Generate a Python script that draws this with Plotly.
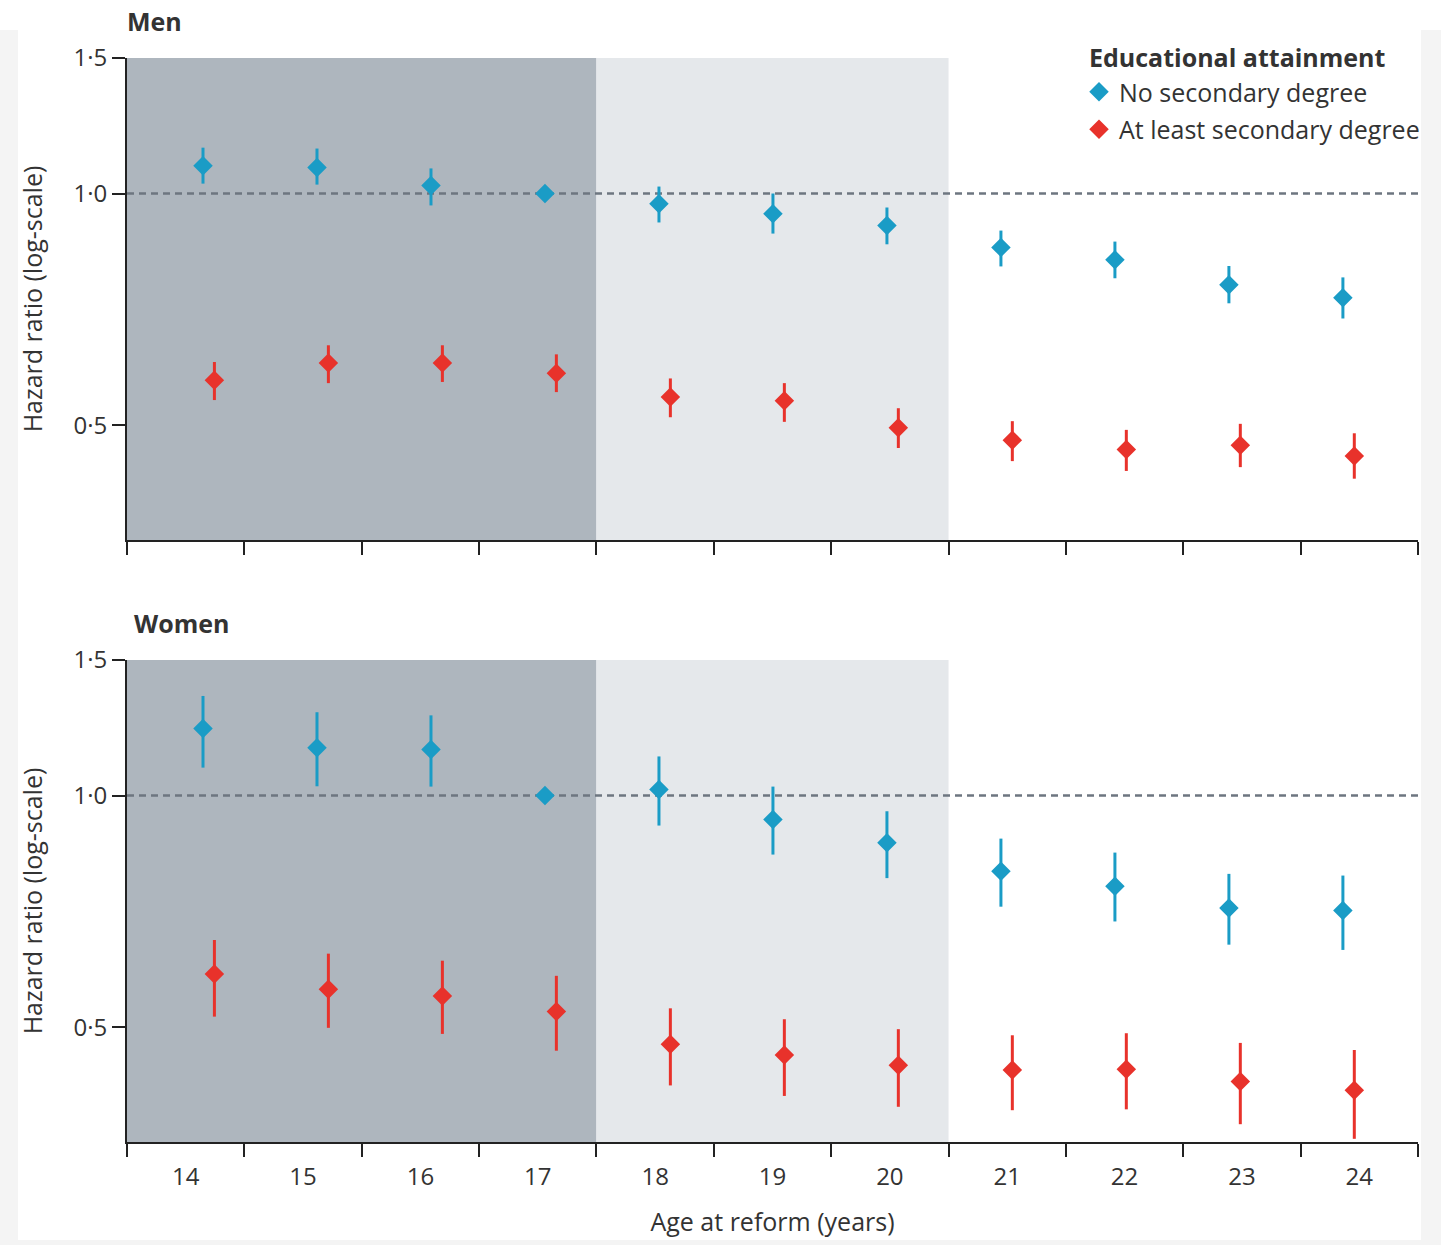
import plotly.graph_objects as go
import math

# ---------------- data ----------------
ages = [14, 15, 16, 17, 18, 19, 20, 21, 22, 23, 24]
tick_labels = [str(a) for a in ages]

# Men – no secondary degree
men_no_hr = [1.087, 1.081, 1.024, 1.000, 0.970, 0.941, 0.909, 0.851, 0.820, 0.761, 0.732]
men_no_hi = [1.147, 1.144, 1.078, 1.000, 1.021, 1.000, 0.959, 0.895, 0.866, 0.805, 0.778]
men_no_lo = [1.030, 1.027, 0.965, 1.000, 0.917, 0.887, 0.859, 0.804, 0.776, 0.720, 0.688]
# Men – at least secondary degree
men_sec_hr = [0.572, 0.602, 0.602, 0.584, 0.544, 0.538, 0.496, 0.478, 0.465, 0.471, 0.456]
men_sec_hi = [0.604, 0.635, 0.635, 0.618, 0.575, 0.567, 0.526, 0.506, 0.493, 0.502, 0.488]
men_sec_lo = [0.539, 0.567, 0.569, 0.552, 0.512, 0.505, 0.467, 0.449, 0.436, 0.441, 0.426]
# Women – no secondary degree
wom_no_hr = [1.222, 1.154, 1.148, 1.000, 1.018, 0.931, 0.868, 0.797, 0.762, 0.714, 0.709]
wom_no_hi = [1.347, 1.283, 1.271, 1.000, 1.124, 1.027, 0.954, 0.879, 0.843, 0.791, 0.787]
wom_no_lo = [1.087, 1.028, 1.027, 1.000, 0.914, 0.838, 0.781, 0.717, 0.686, 0.640, 0.630]
# Women – at least secondary degree
wom_sec_hr = [0.586, 0.560, 0.549, 0.524, 0.475, 0.460, 0.446, 0.440, 0.441, 0.425, 0.414]
wom_sec_hi = [0.649, 0.623, 0.610, 0.583, 0.529, 0.512, 0.497, 0.488, 0.491, 0.477, 0.467]
wom_sec_lo = [0.516, 0.499, 0.490, 0.466, 0.420, 0.407, 0.394, 0.390, 0.391, 0.374, 0.358]

series_names = ["No secondary degree", "At least secondary degree"]
legend_title = "Educational attainment"
panel_names = ["Men", "Women"]

# ---------------- styling ----------------
BLUE = "#1a9cc6"
RED = "#e8322b"
DARK_SHADE = "#aeb6be"
LIGHT_SHADE = "#e5e8eb"
TXT = "#333333"
FONT = "Open Sans"

W, H = 1441, 1245
ML, MR, MT, MB = 127, 23, 58, 103

# x geometry: points 114 px apart, category boxes a little wider
x_left = 13.2833
x_right = 24.6088
n = len(ages)
box = (x_right - x_left) / n
bounds = [x_left + k * box for k in range(n + 1)]
mids = [x_left + (k + 0.5) * box for k in range(n)]
off = 0.05

y_lo, y_hi = 0.3546, 1.5
yrange = [math.log10(y_lo), math.log10(y_hi)]

fig = go.Figure()

def add_pair(hr, hi, lo, color, name, xa, ya, show):
    fig.add_trace(go.Scatter(
        x=[a + (-off if color == BLUE else off) for a in ages],
        y=hr,
        mode="markers",
        name=name,
        legendgroup=name,
        showlegend=show,
        marker=dict(symbol="diamond", size=15, color=color, line=dict(width=0)),
        error_y=dict(type="data", symmetric=False,
                     array=[h - v for h, v in zip(hi, hr)],
                     arrayminus=[v - l for v, l in zip(hr, lo)],
                     color=color, thickness=3, width=0),
        xaxis=xa, yaxis=ya,
    ))

add_pair(men_no_hr, men_no_hi, men_no_lo, BLUE, series_names[0], "x", "y", True)
add_pair(men_sec_hr, men_sec_hi, men_sec_lo, RED, series_names[1], "x", "y", True)
add_pair(wom_no_hr, wom_no_hi, wom_no_lo, BLUE, series_names[0], "x2", "y2", False)
add_pair(wom_sec_hr, wom_sec_hi, wom_sec_lo, RED, series_names[1], "x2", "y2", False)

top_dom = [(1142 - 540) / 1084, 1.0]
bot_dom = [0.0, (1142 - 660) / 1084]

def xaxis_cfg(labels, domain_anchor):
    return dict(
        range=[x_left, x_right], domain=[0, 1], anchor=domain_anchor,
        showgrid=False, zeroline=False,
        showline=True, linecolor="#222222", linewidth=2,
        tickmode="array", tickvals=mids, ticktext=tick_labels,
        showticklabels=labels, ticks="",
        ticklabelstandoff=12,
        tickfont=dict(family=FONT, size=24, color=TXT),
        minor=dict(tickmode="array",
                   tickvals=[b + (1e-6 if i == 0 else (-1e-6 if i == n else 0)) for i, b in enumerate(bounds)],
                   ticks="outside", ticklen=13, tickwidth=2, tickcolor="#222222",
                   showgrid=False),
    )

def yaxis_cfg(domain, anchor):
    return dict(
        type="log", range=yrange, domain=domain, anchor=anchor,
        showgrid=False, zeroline=False,
        showline=True, linecolor="#222222", linewidth=2,
        tickmode="array", tickvals=[0.5, 1.0, 1.5], ticktext=["0·5", "1·0", "1·5"],
        ticks="outside", ticklen=13, tickwidth=2, tickcolor="#222222",
        tickfont=dict(family=FONT, size=24, color=TXT),
        title=dict(text="Hazard ratio (log-scale)", standoff=24,
                   font=dict(family=FONT, size=25, color=TXT)),
    )

fig.update_layout(
    width=W, height=H,
    margin=dict(l=ML, r=MR, t=MT, b=MB, autoexpand=False),
    paper_bgcolor="white", plot_bgcolor="rgba(0,0,0,0)",
    xaxis=xaxis_cfg(False, "y"),
    yaxis=yaxis_cfg(top_dom, "x"),
    xaxis2=dict(xaxis_cfg(True, "y2"),
                title=dict(text="Age at reform (years)", standoff=23,
                           font=dict(family=FONT, size=25, color=TXT))),
    yaxis2=yaxis_cfg(bot_dom, "x2"),
    showlegend=True,
    legend=dict(
        x=(1079 - ML) / 1291, xanchor="left",
        y=(1142 - 69) / 1084, yanchor="top",
        bgcolor="rgba(0,0,0,0)",
        font=dict(family=FONT, size=25, color=TXT),
        tracegroupgap=2,
        itemclick=False,
    ),
)

# shaded regions and reference line
shapes = []
for xa, ya in [("x", "y"), ("x2", "y2")]:
    shapes.append(dict(type="rect", xref=xa, yref=ya + " domain", x0=bounds[0], x1=bounds[4],
                       y0=0, y1=1, fillcolor=DARK_SHADE, line=dict(width=0), layer="below"))
    shapes.append(dict(type="rect", xref=xa, yref=ya + " domain", x0=bounds[4], x1=bounds[7],
                       y0=0, y1=1, fillcolor=LIGHT_SHADE, line=dict(width=0), layer="below"))
    shapes.append(dict(type="line", xref=xa + " domain", yref=ya, x0=0, x1=1, y0=1.0, y1=1.0,
                       line=dict(color="#6d7680", width=2.5, dash="7px,5px"), layer="below"))

# light frame of the page
FRAME = "#f4f4f4"
def px2x(px): return (px - ML) / 1291
def px2y(py): return (1142 - py) / 1084
shapes.append(dict(type="rect", xref="paper", yref="paper", x0=px2x(0), x1=px2x(18),
                   y0=px2y(1245), y1=px2y(30), fillcolor=FRAME, line=dict(width=0), layer="below"))
shapes.append(dict(type="rect", xref="paper", yref="paper", x0=px2x(1421), x1=px2x(1441),
                   y0=px2y(1245), y1=px2y(30), fillcolor=FRAME, line=dict(width=0), layer="below"))
shapes.append(dict(type="rect", xref="paper", yref="paper", x0=px2x(0), x1=px2x(1441),
                   y0=px2y(1245), y1=px2y(1240), fillcolor=FRAME, line=dict(width=0), layer="below"))
fig.update_layout(shapes=shapes)

# legend title and panel labels
fig.add_annotation(text="<b>" + legend_title + "</b>", xref="paper", yref="paper",
                   x=px2x(1087), y=px2y(57), xanchor="left", yanchor="middle", showarrow=False,
                   font=dict(family=FONT, size=25, color=TXT))
fig.add_annotation(text="<b>" + panel_names[0] + "</b>", xref="paper", yref="paper",
                   x=px2x(125), y=px2y(21), xanchor="left", yanchor="middle", showarrow=False,
                   font=dict(family=FONT, size=25, color=TXT))
fig.add_annotation(text="<b>" + panel_names[1] + "</b>", xref="paper", yref="paper",
                   x=px2x(132), y=px2y(623), xanchor="left", yanchor="middle", showarrow=False,
                   font=dict(family=FONT, size=25, color=TXT))

fig.write_html("out.html")
